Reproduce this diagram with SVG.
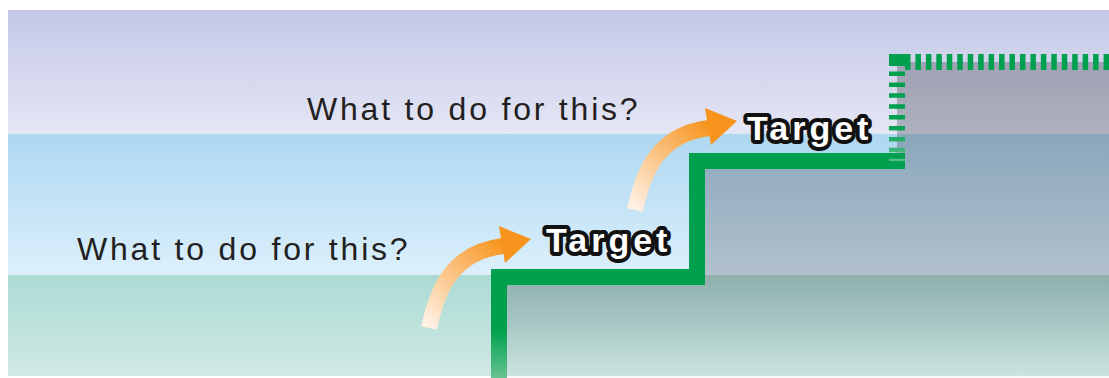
<svg xmlns="http://www.w3.org/2000/svg" xmlns:xlink="http://www.w3.org/1999/xlink" width="1109" height="378" viewBox="0 0 1109 378">
<style>
.q{font-family:"Liberation Sans",Arial,sans-serif;font-size:32px;letter-spacing:2.8px;fill:#231f20}
.t{font-family:"Liberation Sans",Arial,sans-serif;font-weight:bold;font-size:34px;letter-spacing:4px;fill:#fff;stroke:#111;stroke-width:8px;stroke-linejoin:round;paint-order:stroke fill}
.step{fill:none;stroke-width:16px}
</style>
<defs>
<linearGradient id="gTop" x1="0" y1="0" x2="0" y2="1"><stop offset="0" stop-color="#c3c8e6"/><stop offset="1" stop-color="#e5e6f5"/></linearGradient>
<linearGradient id="gMid" x1="0" y1="0" x2="0" y2="1"><stop offset="0" stop-color="#aed7f1"/><stop offset="1" stop-color="#dcf0fc"/></linearGradient>
<linearGradient id="gBot" x1="0" y1="0" x2="0" y2="1"><stop offset="0" stop-color="#acdbd4"/><stop offset="1" stop-color="#d0e9e5"/></linearGradient>
<linearGradient id="gOver" gradientUnits="userSpaceOnUse" x1="0" y1="62" x2="0" y2="378"><stop offset="0" stop-color="#3c3c46" stop-opacity="0.34"/><stop offset="0.69" stop-color="#3c3c46" stop-opacity="0.26"/><stop offset="1" stop-color="#3c3c46" stop-opacity="0.03"/></linearGradient>
<linearGradient id="gGreen" gradientUnits="userSpaceOnUse" x1="0" y1="330" x2="0" y2="378"><stop offset="0" stop-color="#00a04e"/><stop offset="1" stop-color="#66c292"/></linearGradient>
<linearGradient id="gDash" gradientUnits="userSpaceOnUse" x1="0" y1="125" x2="0" y2="158"><stop offset="0" stop-color="#00a04e"/><stop offset="1" stop-color="#55bb86"/></linearGradient>
<linearGradient id="gArrow" gradientUnits="userSpaceOnUse" x1="430" y1="326" x2="505" y2="244"><stop offset="0" stop-color="#fff0e4"/><stop offset="1" stop-color="#f7941d"/></linearGradient>
<g id="arrow">
<path d="M 429 328 C 438 285, 455 252, 503 246" fill="none" stroke="url(#gArrow)" stroke-width="16"/>
<polygon points="499,226 531,239 505,263" fill="#f7941d"/>
</g>
</defs>
<rect x="0" y="0" width="1109" height="378" fill="#fff"/>
<g id="background">
<rect x="8" y="10" width="1101" height="124" fill="url(#gTop)"/>
<rect x="8" y="134" width="1101" height="141" fill="url(#gMid)"/>
<rect x="8" y="275" width="1101" height="101" fill="url(#gBot)"/>
<path d="M 499 378 V 277 H 697 V 161 H 897 V 62 H 1109 V 378 Z" fill="url(#gOver)"/>
</g>
<g id="stairs">
<path class="step" d="M 499 378 V 277 H 697 V 161 H 905" stroke="url(#gGreen)"/>
<line x1="897" y1="71.5" x2="897" y2="161" stroke="url(#gDash)" stroke-width="16" stroke-dasharray="4.5 6.4"/>
<rect x="889" y="54" width="16" height="12" fill="#00a04e"/>
<line x1="905" y1="62" x2="1109" y2="62" stroke="#00a04e" stroke-width="16" stroke-dasharray="5.5 4.95"/>
</g>
<g id="connectors">
<use xlink:href="#arrow"/>
<use xlink:href="#arrow" transform="translate(206,-118)"/>
</g>
<g id="question-upper"><text class="q" x="307" y="120">What to do for this?</text></g>
<g id="question-lower"><text class="q" x="77" y="260">What to do for this?</text></g>
<g id="target-lower"><text class="t" x="546" y="252">Target</text></g>
<g id="target-upper"><text class="t" x="747" y="140">Target</text></g>
</svg>
